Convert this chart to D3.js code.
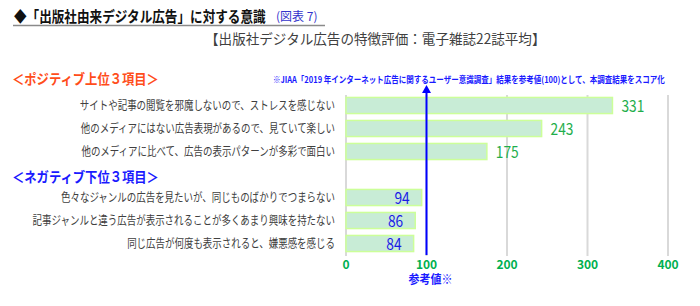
<!DOCTYPE html>
<html>
<head>
<meta charset="utf-8">
<script src="https://cdn.jsdelivr.net/npm/d3@7"></script>
<style>
  body { margin: 0; background: #fff; }
  text { font-family: "Noto Sans CJK JP", "Noto Sans", sans-serif; }
</style>
</head>
<body>
<div id="chart"></div>
<script>
// data
var categories = [
    "サイトや記事の閲覧を邪魔しないので、ストレスを感じない",
    "他のメディアにはない広告表現があるので、見ていて楽しい",
    "他のメディアに比べて、広告の表示パターンが多彩で面白い",
    "",
    "色々なジャンルの広告を見たいが、同じものばかりでつまらない",
    "記事ジャンルと違う広告が表示されることが多くあまり興味を持たない",
    "同じ広告が何度も表示されると、嫌悪感を感じる"
];
var values = [331, 243, 175, null, 94, 86, 84];
var groups = ["pos", "pos", "pos", null, "neg", "neg", "neg"];
var ticks = [0, 100, 200, 300, 400];
var refValue = 100;

var width = 700;
var height = 306;

var svg = d3.select('#chart')
    .append('svg')
    .attr('width', width)
    .attr('height', height);

// squeeze text horizontally around its anchor x (source font is a narrow one)
function condense(sel, k) {
    sel.each(function() {
        var x0 = +this.getAttribute('x');
        d3.select(this)
            .attr('transform', 'translate(' + x0 + ',0) scale(' + k + ',1) translate(' + (-x0) + ',0)');
    });
}

var x = d3.scaleLinear()
    .domain([0, 400])
    .range([346, 668]);

var y = d3.scaleBand()
    .domain(d3.range(categories.length))
    .range([94, 255])
    .paddingInner(0.3)
    .paddingOuter(0.15);

// title
svg.append("text")
    .attr("x", 14)
    .attr("y", 22)
    .attr("font-size", 15)
    .attr("font-weight", "bold")
    .attr("fill", "#111")
    .text("◆「出版社由来デジタル広告」に対する意識")
    .call(condense, 0.84);

svg.append("text")
    .attr("x", 276)
    .attr("y", 21)
    .attr("font-size", 12)
    .attr("fill", "#3333cc")
    .text("(図表 7)");

svg.append("line")
    .attr("x1", 13).attr("x2", 325)
    .attr("y1", 25.5).attr("y2", 25.5)
    .attr("stroke", "#8a8a8a")
    .attr("stroke-width", 1.5);

svg.append("text")
    .attr("x", 205)
    .attr("y", 44)
    .attr("font-size", 14)
    .attr("fill", "#404040")
    .text("【出版社デジタル広告の特徴評価：電子雑誌22誌平均】")
    .call(condense, 0.97);

// section headers
svg.append("text")
    .attr("x", 12)
    .attr("y", 84)
    .attr("font-size", 14)
    .attr("font-weight", "bold")
    .attr("fill", "#ff4d1a")
    .text("＜ポジティブ上位３項目＞")
    .call(condense, 0.88);

svg.append("text")
    .attr("x", 12)
    .attr("y", 182)
    .attr("font-size", 14)
    .attr("font-weight", "bold")
    .attr("fill", "#1a1aff")
    .text("＜ネガティブ下位３項目＞")
    .call(condense, 0.88);

svg.append("text")
    .attr("x", 273)
    .attr("y", 83)
    .attr("font-size", 9)
    .attr("font-weight", 600)
    .attr("fill", "#1a1aff")
    .text("※JIAA「2019 年インターネット広告に関するユーザー意識調査」結果を参考値(100)として、本調査結果をスコア化")
    .call(condense, 0.835);

// grid lines
svg.append("g")
    .selectAll("line")
    .data(ticks)
    .enter()
    .append("line")
    .attr("x1", d => x(d))
    .attr("x2", d => x(d))
    .attr("y1", 95)
    .attr("y2", 256)
    .attr("stroke", "#d9d9d9")
    .attr("stroke-width", 2);

// bars
var rows = categories.map((c, i) => ({ cat: c, value: values[i], group: groups[i], i: i }))
    .filter(d => d.value != null);

svg.append("g")
    .selectAll("rect")
    .data(rows)
    .enter()
    .append("rect")
    .attr("x", x(0))
    .attr("y", d => y(d.i))
    .attr("width", d => x(d.value) - x(0))
    .attr("height", y.bandwidth())
    .attr("fill", "#c8ecd6")
    .attr("stroke", "#ccff99")
    .attr("stroke-width", 1.5);

// category labels
svg.append("g")
    .selectAll("text")
    .data(rows)
    .enter()
    .append("text")
    .attr("x", 335)
    .attr("y", d => y(d.i) + y.bandwidth() / 2)
    .attr("dy", "0.36em")
    .attr("text-anchor", "end")
    .attr("font-size", 12)
    .attr("fill", "#404040")
    .text(d => d.cat)
    .call(condense, 0.79);

// value labels
svg.append("g")
    .selectAll("text")
    .data(rows)
    .enter()
    .append("text")
    .attr("x", d => d.group == "pos" ? x(d.value) + 9 : x(d.value) - 12)
    .attr("y", d => y(d.i) + y.bandwidth() / 2)
    .attr("dy", "0.38em")
    .attr("text-anchor", d => d.group == "pos" ? "start" : "end")
    .attr("font-size", 16)
    .attr("fill", d => d.group == "pos" ? "#1fae4c" : "#1a1ae6")
    .text(d => d.value)
    .call(condense, 0.86);

// reference line + arrow
svg.append("line")
    .attr("x1", x(refValue)).attr("x2", x(refValue))
    .attr("y1", 92).attr("y2", 255)
    .attr("stroke", "#0000ff")
    .attr("stroke-width", 2);

svg.append("path")
    .attr("d", d3.line()([[x(refValue), 85], [x(refValue) - 4.5, 93], [x(refValue) + 4.5, 93]]))
    .attr("fill", "#0000ff");

// x tick labels
svg.append("g")
    .selectAll("text")
    .data(ticks)
    .enter()
    .append("text")
    .attr("x", d => x(d))
    .attr("y", 268.5)
    .attr("text-anchor", "middle")
    .attr("font-size", 12)
    .attr("font-weight", "bold")
    .attr("fill", "#00b050")
    .text(d => d);

svg.append("text")
    .attr("x", x(refValue) + 4)
    .attr("y", 284.5)
    .attr("text-anchor", "middle")
    .attr("font-size", 12)
    .attr("font-weight", "bold")
    .attr("fill", "#1a1aff")
    .text("参考値※")
    .call(condense, 0.92);
</script>
</body>
</html>
